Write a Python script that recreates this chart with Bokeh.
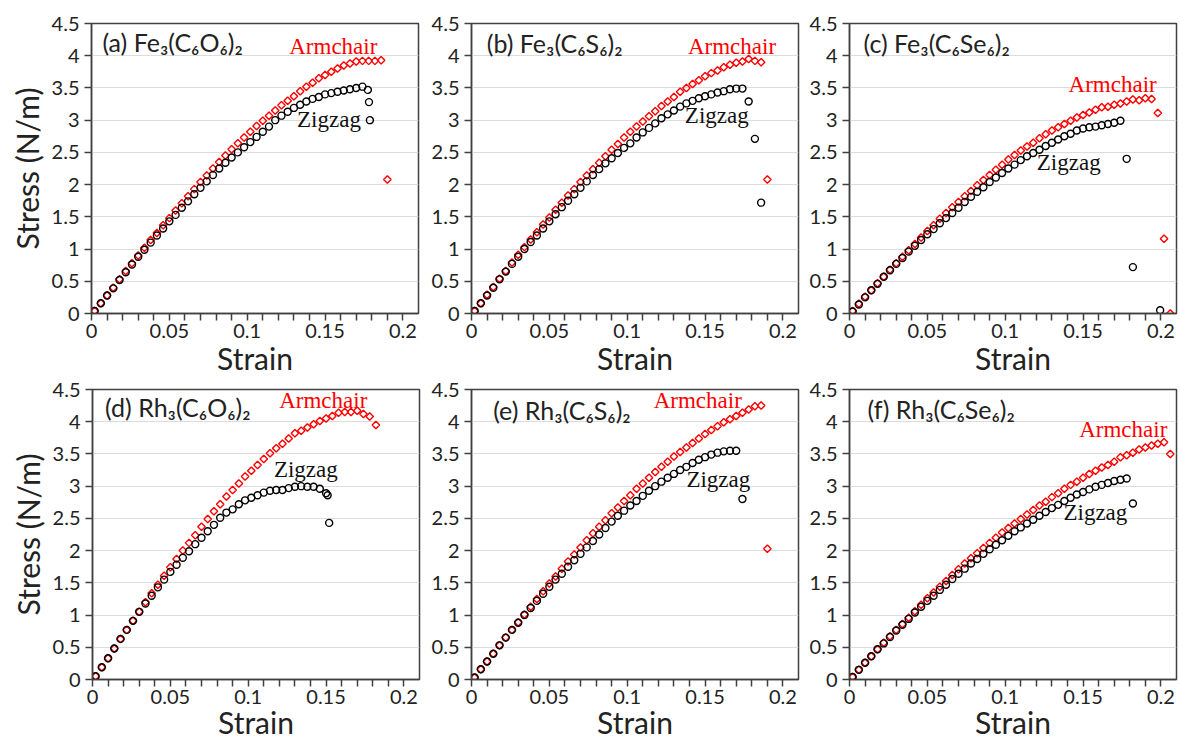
import math
from bokeh.plotting import figure
from bokeh.layouts import column, row
from bokeh.models import FixedTicker, Label
from bokeh.embed import file_html
from bokeh.resources import INLINE

# strain grid used by the simulations (typed values)
strain_steps = [0.002, 0.006, 0.010, 0.014, 0.018, 0.022, 0.026, 0.030, 0.034, 0.038,
                0.042, 0.046, 0.050, 0.054, 0.058, 0.062, 0.066, 0.070, 0.074, 0.078,
                0.082, 0.086, 0.090, 0.094, 0.098, 0.102, 0.106, 0.110, 0.114, 0.118,
                0.122, 0.126, 0.130, 0.134, 0.138, 0.142, 0.146, 0.150, 0.154, 0.158,
                0.162, 0.166, 0.170, 0.174, 0.178, 0.182, 0.186, 0.190, 0.194, 0.198,
                0.202, 0.206]

# (a) Fe3(C6O6)2
a_arm_strain = strain_steps[:48]
a_arm_stress = [0.04, 0.16, 0.28, 0.40, 0.53, 0.66, 0.78, 0.90, 1.02, 1.14,
                1.25, 1.37, 1.48, 1.60, 1.71, 1.82, 1.93, 2.04, 2.14, 2.25,
                2.35, 2.45, 2.55, 2.64, 2.73, 2.82, 2.91, 2.99, 3.07, 3.15,
                3.23, 3.30, 3.37, 3.45, 3.52, 3.58, 3.65, 3.70, 3.75, 3.80,
                3.85, 3.88, 3.91, 3.92, 3.92, 3.92, 3.93, 2.08]
a_zig_strain = strain_steps[:44] + [0.1775, 0.1782, 0.1788]
a_zig_stress = [0.04, 0.16, 0.28, 0.39, 0.52, 0.64, 0.76, 0.88, 0.99, 1.10,
                1.21, 1.32, 1.43, 1.53, 1.64, 1.74, 1.85, 1.95, 2.05, 2.15,
                2.25, 2.34, 2.42, 2.50, 2.58, 2.66, 2.74, 2.82, 2.90, 3.00,
                3.07, 3.13, 3.19, 3.24, 3.29, 3.33, 3.36, 3.40, 3.42, 3.44,
                3.46, 3.48, 3.50, 3.52, 3.47, 3.28, 3.00]

# (b) Fe3(C6S6)2
b_arm_strain = strain_steps[:48]
b_arm_stress = [0.04, 0.16, 0.29, 0.41, 0.54, 0.66, 0.79, 0.91, 1.03, 1.15,
                1.26, 1.38, 1.49, 1.61, 1.72, 1.83, 1.93, 2.04, 2.14, 2.24,
                2.34, 2.44, 2.54, 2.63, 2.73, 2.82, 2.90, 2.98, 3.06, 3.14,
                3.22, 3.29, 3.36, 3.44, 3.50, 3.56, 3.62, 3.68, 3.73, 3.77,
                3.82, 3.86, 3.89, 3.91, 3.95, 3.92, 3.90, 2.08]
b_zig_strain = strain_steps[:47]
b_zig_stress = [0.04, 0.16, 0.28, 0.40, 0.53, 0.65, 0.77, 0.88, 1.00, 1.11,
                1.21, 1.32, 1.43, 1.54, 1.65, 1.75, 1.85, 1.95, 2.05, 2.15,
                2.24, 2.33, 2.41, 2.49, 2.57, 2.64, 2.73, 2.81, 2.88, 2.95,
                3.03, 3.09, 3.15, 3.21, 3.26, 3.30, 3.34, 3.37, 3.40, 3.43,
                3.45, 3.48, 3.49, 3.49, 3.29, 2.71, 1.72]

# (c) Fe3(C6Se6)2
c_arm_strain = strain_steps[:52]
c_arm_stress = [0.04, 0.15, 0.26, 0.36, 0.47, 0.57, 0.68, 0.78, 0.88, 0.98,
                1.08, 1.18, 1.28, 1.37, 1.47, 1.56, 1.65, 1.73, 1.82, 1.90,
                1.99, 2.07, 2.15, 2.23, 2.31, 2.39, 2.46, 2.53, 2.59, 2.65,
                2.72, 2.78, 2.84, 2.89, 2.94, 2.99, 3.04, 3.08, 3.12, 3.16,
                3.20, 3.21, 3.24, 3.26, 3.29, 3.32, 3.31, 3.34, 3.33, 3.11,
                1.16, 0.00]
c_zig_strain = strain_steps[:44] + [0.178, 0.182, 0.1995]
c_zig_stress = [0.03, 0.14, 0.25, 0.36, 0.46, 0.57, 0.67, 0.77, 0.86, 0.96,
                1.05, 1.14, 1.23, 1.31, 1.40, 1.48, 1.56, 1.64, 1.73, 1.81,
                1.89, 1.96, 2.04, 2.11, 2.18, 2.25, 2.31, 2.38, 2.44, 2.49,
                2.54, 2.60, 2.65, 2.70, 2.75, 2.79, 2.84, 2.87, 2.89, 2.90,
                2.92, 2.94, 2.96, 2.99, 2.40, 0.72, 0.05]

# (d) Rh3(C6O6)2
d_arm_strain = strain_steps[:46]
d_arm_stress = [0.05, 0.19, 0.33, 0.48, 0.63, 0.77, 0.91, 1.05, 1.20, 1.34,
                1.47, 1.61, 1.74, 1.87, 2.00, 2.12, 2.24, 2.37, 2.49, 2.61,
                2.72, 2.84, 2.94, 3.04, 3.15, 3.24, 3.33, 3.42, 3.51, 3.59,
                3.66, 3.74, 3.82, 3.86, 3.91, 3.96, 4.01, 4.05, 4.09, 4.14,
                4.15, 4.15, 4.17, 4.12, 4.08, 3.95]
d_zig_strain = strain_steps[:38] + [0.151, 0.152]
d_zig_stress = [0.05, 0.19, 0.33, 0.48, 0.63, 0.77, 0.91, 1.05, 1.18, 1.30,
                1.43, 1.55, 1.67, 1.78, 1.89, 1.99, 2.10, 2.20, 2.30, 2.40,
                2.51, 2.59, 2.64, 2.72, 2.78, 2.82, 2.86, 2.90, 2.93, 2.94,
                2.94, 2.97, 2.99, 3.00, 2.99, 2.99, 2.96, 2.89, 2.86, 2.43]

# (e) Rh3(C6S6)2
e_arm_strain = strain_steps[:48]
e_arm_stress = [0.03, 0.16, 0.28, 0.40, 0.53, 0.65, 0.77, 0.89, 1.01, 1.13,
                1.25, 1.37, 1.49, 1.60, 1.72, 1.83, 1.94, 2.05, 2.16, 2.27,
                2.37, 2.47, 2.58, 2.67, 2.77, 2.86, 2.96, 3.04, 3.13, 3.22,
                3.30, 3.38, 3.46, 3.53, 3.60, 3.67, 3.74, 3.81, 3.87, 3.93,
                3.99, 4.04, 4.09, 4.14, 4.19, 4.24, 4.25, 2.03]
e_zig_strain = strain_steps[:44]
e_zig_stress = [0.03, 0.16, 0.28, 0.40, 0.53, 0.65, 0.77, 0.88, 1.00, 1.11,
                1.22, 1.33, 1.44, 1.55, 1.64, 1.75, 1.85, 1.95, 2.05, 2.15,
                2.25, 2.35, 2.45, 2.54, 2.62, 2.70, 2.77, 2.85, 2.93, 3.00,
                3.07, 3.13, 3.19, 3.25, 3.30, 3.36, 3.41, 3.45, 3.49, 3.52,
                3.54, 3.55, 3.55, 2.80]

# (f) Rh3(C6Se6)2
f_arm_strain = strain_steps[:52]
f_arm_stress = [0.04, 0.15, 0.26, 0.36, 0.47, 0.57, 0.67, 0.77, 0.86, 0.96,
                1.06, 1.16, 1.26, 1.35, 1.44, 1.53, 1.62, 1.71, 1.80, 1.88,
                1.96, 2.04, 2.12, 2.20, 2.28, 2.35, 2.42, 2.49, 2.56, 2.63,
                2.70, 2.76, 2.83, 2.89, 2.96, 3.02, 3.07, 3.13, 3.19, 3.24,
                3.29, 3.33, 3.38, 3.45, 3.48, 3.52, 3.57, 3.60, 3.63, 3.66,
                3.68, 3.50]
f_zig_strain = strain_steps[:46]
f_zig_stress = [0.04, 0.15, 0.26, 0.36, 0.47, 0.56, 0.66, 0.76, 0.85, 0.94,
                1.04, 1.13, 1.22, 1.30, 1.39, 1.47, 1.56, 1.64, 1.72, 1.80,
                1.87, 1.95, 2.02, 2.09, 2.16, 2.23, 2.30, 2.36, 2.42, 2.48,
                2.54, 2.60, 2.66, 2.71, 2.77, 2.82, 2.87, 2.91, 2.95, 2.99,
                3.02, 3.05, 3.08, 3.10, 3.12, 2.73]

panel_titles = ["(a) Fe\u2083(C\u2086O\u2086)\u2082", "(b) Fe\u2083(C\u2086S\u2086)\u2082",
                "(c) Fe\u2083(C\u2086Se\u2086)\u2082", "(d) Rh\u2083(C\u2086O\u2086)\u2082",
                "(e) Rh\u2083(C\u2086S\u2086)\u2082", "(f) Rh\u2083(C\u2086Se\u2086)\u2082"]

x_ticks = [0, 0.05, 0.1, 0.15, 0.2]
x_tick_labels = ["0", "0.05", "0.1", "0.15", "0.2"]
x_minor_ticks = [0.01, 0.02, 0.03, 0.04, 0.06, 0.07, 0.08, 0.09, 0.11, 0.12,
                 0.13, 0.14, 0.16, 0.17, 0.18, 0.19]
y_ticks = [0, 0.5, 1, 1.5, 2, 2.5, 3, 3.5, 4, 4.5]
y_tick_labels = ["0", "0.5", "1", "1.5", "2", "2.5", "3", "3.5", "4", "4.5"]

x_label = "Strain"
y_label = "Stress (N/m)"

# annotation placements (data coords): title, Armchair, Zigzag
title_pos = [(0.007, 4.22), (0.0098, 4.20), (0.009, 4.20), (0.0081, 4.23), (0.0139, 4.18), (0.0116, 4.19)]
arm_pos = [(0.127, 4.14), (0.139, 4.15), (0.1407, 3.55), (0.1199, 4.33), (0.117, 4.33), (0.1475, 3.88)]
zig_pos = [(0.132, 3.01), (0.137, 3.07), (0.1203, 2.34), (0.1165, 3.26), (0.138, 3.11), (0.1374, 2.59)]

series = [
    (a_arm_strain, a_arm_stress, a_zig_strain, a_zig_stress),
    (b_arm_strain, b_arm_stress, b_zig_strain, b_zig_stress),
    (c_arm_strain, c_arm_stress, c_zig_strain, c_zig_stress),
    (d_arm_strain, d_arm_stress, d_zig_strain, d_zig_stress),
    (e_arm_strain, e_arm_stress, e_zig_strain, e_zig_stress),
    (f_arm_strain, f_arm_stress, f_zig_strain, f_zig_stress),
]

AX = "#404040"
TXT = "#222222"
FRAME_W = 327
FRAME_H = 290


def make_panel(i):
    col = i % 3
    rw = i // 3
    if rw == 0:
        border_left = [91, 45, 43][col]
    else:
        border_left = [92, 44, 43][col]
    border_right = [8, 8, 4][col]
    border_top = 23 if rw == 0 else 11
    p = figure(frame_width=FRAME_W, frame_height=FRAME_H,
               x_range=(0, 0.21), y_range=(0, 4.5),
               output_backend="svg", toolbar_location=None,
               min_border_left=border_left, min_border_right=border_right,
               min_border_top=border_top, min_border_bottom=0,
               background_fill_color="white", border_fill_color="white")
    p.outline_line_color = AX
    p.outline_line_width = 1.5
    p.xgrid.visible = False
    p.ygrid.grid_line_color = "#dcdcdc"
    p.ygrid.grid_line_width = 1
    p.ygrid.ticker = FixedTicker(ticks=y_ticks)

    p.xaxis.ticker = FixedTicker(ticks=x_ticks, minor_ticks=x_minor_ticks)
    p.xaxis.major_label_overrides = dict(zip(x_ticks, x_tick_labels))
    p.yaxis.ticker = FixedTicker(ticks=y_ticks)
    p.yaxis.major_label_overrides = dict(zip(y_ticks, y_tick_labels))

    for ax in (p.xaxis[0], p.yaxis[0]):
        ax.axis_line_color = AX
        ax.axis_line_width = 1.5
        ax.major_tick_line_color = AX
        ax.major_tick_line_width = 1.5
        ax.minor_tick_line_color = AX
        ax.minor_tick_line_width = 1.5
        ax.major_tick_in = 0
        ax.major_tick_out = 7
        ax.minor_tick_in = 0
        ax.minor_tick_out = 7
        ax.major_label_text_font = "Lato"
        ax.major_label_text_font_size = "20px"
        ax.major_label_text_color = TXT
        ax.axis_label_text_font = "Lato"
        ax.axis_label_text_font_size = "30px"
        ax.axis_label_text_font_style = "normal"
        ax.axis_label_text_color = TXT
    p.yaxis.minor_tick_out = 0
    p.xaxis.major_label_standoff = 3
    p.yaxis.major_label_standoff = 5
    p.xaxis.axis_label = x_label
    p.xaxis.axis_label_standoff = -1 if rw == 0 else -3
    if col == 0:
        p.yaxis.axis_label = y_label
        p.yaxis.axis_label_standoff = 4

    xs_a, ys_a, xs_z, ys_z = series[i]
    p.scatter(xs_a, ys_a, marker="square", size=5.3, angle=math.pi / 4,
              fill_color=None, line_color="#ff0000", line_width=1.4)
    p.scatter(xs_z, ys_z, marker="circle", size=7,
              fill_color=None, line_color="#000000", line_width=1.4)

    tx, ty = title_pos[i]
    p.add_layout(Label(x=tx, y=ty, text=panel_titles[i], text_font="Lato",
                       text_font_size="25px", text_color=TXT, text_baseline="alphabetic"))
    ax_, ay_ = arm_pos[i]
    p.add_layout(Label(x=ax_, y=ay_, text="Armchair", text_font="Liberation Serif",
                       text_font_size="23px", text_color="#ff0000", text_baseline="alphabetic"))
    zx, zy = zig_pos[i]
    p.add_layout(Label(x=zx, y=zy, text="Zigzag", text_font="Liberation Serif",
                       text_font_size="23px", text_color="#111111", text_baseline="alphabetic"))
    return p


plots = [make_panel(i) for i in range(6)]
layout = column(row(*plots[:3]), row(*plots[3:]))

open("out.html", "w").write(file_html(layout, INLINE))
